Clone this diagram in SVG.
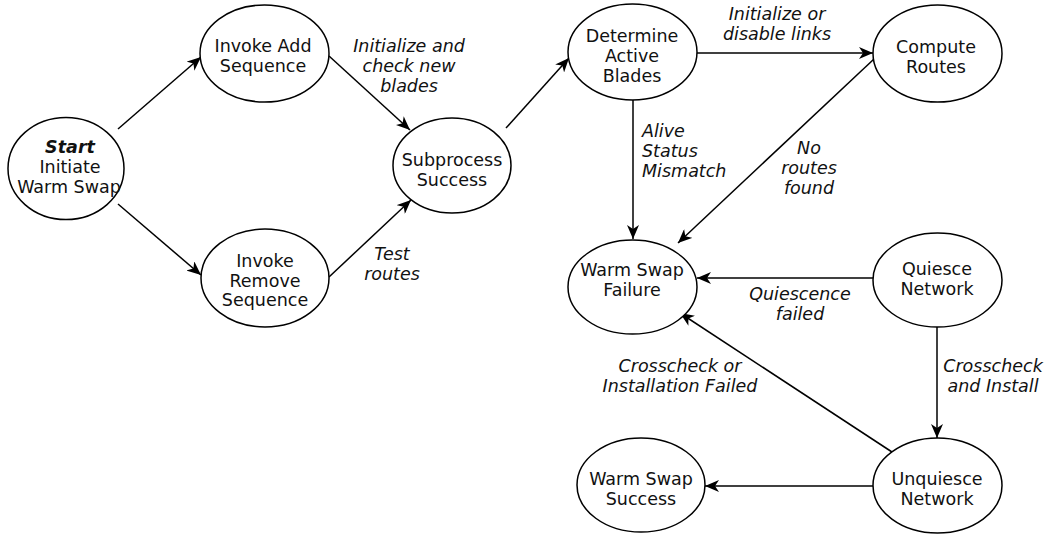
<svg xmlns="http://www.w3.org/2000/svg" width="1045" height="535" viewBox="0 0 1045 535">
  <style>
    .node ellipse { fill: #ffffff; stroke: #000000; stroke-width: 1.5; }
    .node text { font-family: "DejaVu Sans", Verdana, sans-serif; font-size: 17.5px; fill: #111111; text-anchor: middle; }
    .edge { stroke: #000000; stroke-width: 1.5; fill: none; marker-end: url(#arrow); }
    .lbl { font-family: "DejaVu Sans", Verdana, sans-serif; font-size: 17.5px; font-style: italic; fill: #111111; text-anchor: middle; }
  </style>
  <defs>
    <marker id="arrow" markerUnits="userSpaceOnUse" markerWidth="15" markerHeight="12" refX="14" refY="6" orient="auto">
      <path d="M0,0 L14,6 L0,12 L4,6 Z" fill="#000000"/>
    </marker>
  </defs>
  <rect width="1045" height="535" fill="#ffffff"/>

  <!-- connectors -->
  <g id="connectors">
    <line class="edge" x1="118" y1="129" x2="201" y2="57"/>
    <line class="edge" x1="118" y1="204" x2="201" y2="275"/>
    <line class="edge" x1="329" y1="56" x2="410" y2="130"/>
    <line class="edge" x1="329" y1="277" x2="411" y2="200"/>
    <line class="edge" x1="506" y1="128" x2="569" y2="58"/>
    <line class="edge" x1="697" y1="53" x2="873" y2="53"/>
    <line class="edge" x1="633" y1="100" x2="633" y2="239"/>
    <line class="edge" x1="874" y1="59" x2="678" y2="243"/>
    <line class="edge" x1="873" y1="278" x2="697" y2="278"/>
    <line class="edge" x1="937" y1="327" x2="937" y2="438"/>
    <line class="edge" x1="892" y1="452" x2="680" y2="313"/>
    <line class="edge" x1="873" y1="486" x2="705" y2="486"/>

    <text class="lbl" x="409" y="52">Initialize and</text>
    <text class="lbl" x="409" y="72">check new</text>
    <text class="lbl" x="409" y="92">blades</text>
    <text class="lbl" x="392" y="260">Test</text>
    <text class="lbl" x="392" y="280">routes</text>
    <text class="lbl" x="777" y="20">Initialize or</text>
    <text class="lbl" x="777" y="40">disable links</text>
    <text class="lbl" x="642" y="137" style="text-anchor:start">Alive</text>
    <text class="lbl" x="642" y="157" style="text-anchor:start">Status</text>
    <text class="lbl" x="642" y="177" style="text-anchor:start">Mismatch</text>
    <text class="lbl" x="809" y="154">No</text>
    <text class="lbl" x="809" y="174">routes</text>
    <text class="lbl" x="809" y="194">found</text>
    <text class="lbl" x="800" y="300">Quiescence</text>
    <text class="lbl" x="800" y="320">failed</text>
    <text class="lbl" x="993" y="372">Crosscheck</text>
    <text class="lbl" x="993" y="392">and Install</text>
    <text class="lbl" x="680" y="372">Crosscheck or</text>
    <text class="lbl" x="680" y="392">Installation Failed</text>
  </g>

  <!-- nodes -->
  <g id="start" class="node">
    <ellipse cx="66" cy="168.5" rx="58" ry="51"/>
    <text x="70" y="153" style="font-weight:bold;font-style:italic">Start</text>
    <text x="70" y="173">Initiate</text>
    <text x="69" y="193">Warm Swap</text>
  </g>
  <g id="invoke-add" class="node">
    <ellipse cx="264.5" cy="53.5" rx="64.5" ry="48.5"/>
    <text x="263" y="52">Invoke Add</text>
    <text x="263" y="72">Sequence</text>
  </g>
  <g id="invoke-remove" class="node">
    <ellipse cx="265" cy="278" rx="64" ry="49"/>
    <text x="265" y="267">Invoke</text>
    <text x="265" y="287">Remove</text>
    <text x="265" y="306">Sequence</text>
  </g>
  <g id="subprocess-success" class="node">
    <ellipse cx="452" cy="165.5" rx="59" ry="47.5"/>
    <text x="452" y="166">Subprocess</text>
    <text x="452" y="186">Success</text>
  </g>
  <g id="determine-active" class="node">
    <ellipse cx="632.5" cy="52" rx="64.5" ry="48"/>
    <text x="632" y="42">Determine</text>
    <text x="632" y="62">Active</text>
    <text x="632" y="82">Blades</text>
  </g>
  <g id="compute-routes" class="node">
    <ellipse cx="937.5" cy="53.5" rx="64.5" ry="48.5"/>
    <text x="936" y="53">Compute</text>
    <text x="936" y="73">Routes</text>
  </g>
  <g id="warm-swap-failure" class="node">
    <ellipse cx="632.5" cy="287" rx="64.5" ry="47"/>
    <text x="632" y="276">Warm Swap</text>
    <text x="632" y="296">Failure</text>
  </g>
  <g id="quiesce-network" class="node">
    <ellipse cx="937.5" cy="280" rx="64.5" ry="47"/>
    <text x="937" y="275">Quiesce</text>
    <text x="937" y="295">Network</text>
  </g>
  <g id="unquiesce-network" class="node">
    <ellipse cx="937.5" cy="485.5" rx="64.5" ry="47.5"/>
    <text x="937" y="485">Unquiesce</text>
    <text x="937" y="505">Network</text>
  </g>
  <g id="warm-swap-success" class="node">
    <ellipse cx="641" cy="485" rx="64" ry="47"/>
    <text x="641" y="485">Warm Swap</text>
    <text x="641" y="505">Success</text>
  </g>
</svg>
